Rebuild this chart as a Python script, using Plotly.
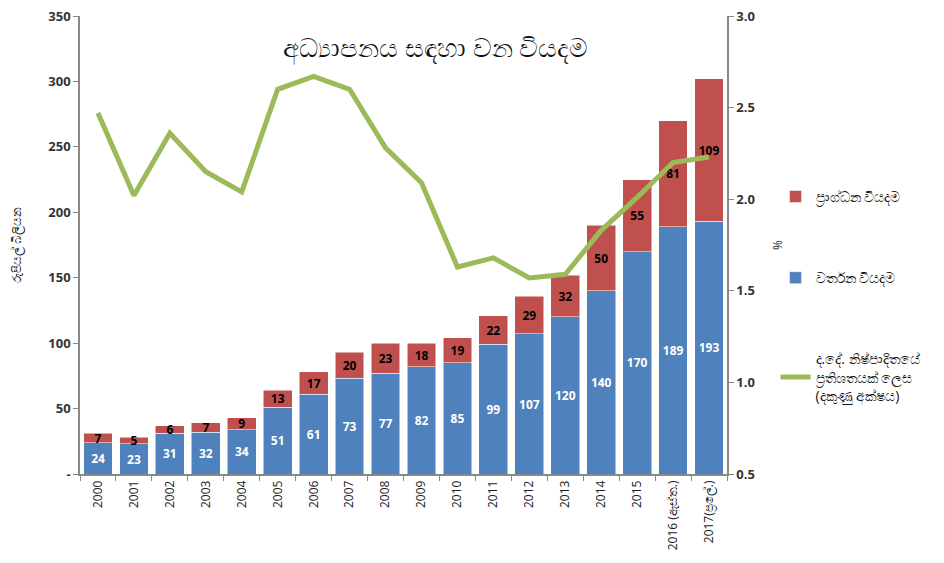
import plotly.graph_objects as go

years = ["2000", "2001", "2002", "2003", "2004", "2005", "2006", "2007", "2008",
         "2009", "2010", "2011", "2012", "2013", "2014", "2015",
         "2016 (ඇස්ත.)", "2017(ප්‍රලේ.)"]
current_exp = [24, 23, 31, 32, 34, 51, 61, 73, 77, 82, 85, 99, 107, 120, 140, 170, 189, 193]
capital_exp = [7, 5, 6, 7, 9, 13, 17, 20, 23, 18, 19, 22, 29, 32, 50, 55, 81, 109]
gdp_pct = [2.47, 2.02, 2.36, 2.15, 2.04, 2.60, 2.67, 2.60, 2.28, 2.09, 1.63, 1.68,
           1.57, 1.59, 1.83, 2.01, 2.20, 2.23]
left_ticks = [0, 50, 100, 150, 200, 250, 300, 350]
left_ticktext = ["-", "50", "100", "150", "200", "250", "300", "350"]
right_ticks = [0.5, 1.0, 1.5, 2.0, 2.5, 3.0]

title_text = "අධ්‍යාපනය සඳහා වන වියදම"
name_capital = "ප්‍රාග්ධන වියදම"
name_current = "වර්තන වියදම"
name_gdp = "ද.දේ. නිෂ්පාදිතයේ<br>ප්‍රතිශතයක් ලෙස<br>(දකුණු අක්ෂය)"

BLUE = "#4F81BD"
RED = "#C0504D"
GREEN = "#9BBB59"
FONT = "Open Sans, Noto Sans, DejaVu Sans, sans-serif"
TICKFONT = dict(size=13, color="#333", family=FONT, weight="bold")

fig = go.Figure()
fig.add_trace(go.Bar(
    x=years, y=current_exp, name=name_current, marker_color=BLUE,
    marker_line=dict(color="white", width=0.5),
    text=current_exp, textposition="inside", insidetextanchor="middle",
    textfont=dict(color="white", size=14, family=FONT, weight="bold"), textangle=0,
    legendgroup="b", legendrank=2,
))
fig.add_trace(go.Bar(
    x=years, y=capital_exp, name=name_capital, marker_color=RED,
    marker_line=dict(color="white", width=0.5),
    text=capital_exp, textposition="inside", insidetextanchor="middle",
    textfont=dict(color="black", size=14, family=FONT, weight="bold"), textangle=0,
    legendgroup="a", legendrank=1,
))
fig.add_trace(go.Scatter(
    x=years, y=gdp_pct, name=name_gdp, mode="lines",
    line=dict(color=GREEN, width=5), yaxis="y2",
    legendgroup="c", legendrank=3,
))

fig.update_layout(
    width=944, height=563,
    margin=dict(l=72, r=225, t=8, b=97, autoexpand=False),
    paper_bgcolor="white", plot_bgcolor="white",
    barmode="stack", bargap=0.2,
    uniformtext=dict(minsize=9, mode="show"),
    font=dict(family=FONT, color="#222", size=12),
    showlegend=True,
    legend=dict(x=1.075, y=0.64, xanchor="left", yanchor="top",
                traceorder="grouped", tracegroupgap=60,
                font=dict(size=14, color="#111"), itemwidth=30),
    xaxis=dict(type="category", tickangle=-90, showline=True, linecolor="#888",
               linewidth=1.5, ticks="outside", tickson="boundaries", ticklen=5,
               tickcolor="#888", showgrid=False, automargin=False,
               tickfont=dict(size=12, color="#222")),
    yaxis=dict(range=[0, 350], tickvals=left_ticks, ticktext=left_ticktext,
               showline=True, linecolor="#888", linewidth=1.5, ticks="outside",
               ticklen=5, tickcolor="#888", showgrid=False, zeroline=False,
               automargin=False, tickfont=TICKFONT, ticklabeloverflow="allow",
               title=dict(text="රුපියල් බිලියන", font=dict(size=12), standoff=24)),
    yaxis2=dict(range=[0.5, 3.0], tickvals=right_ticks, tickformat=".1f",
                overlaying="y", side="right",
                showline=True, linecolor="#888", linewidth=1.5, ticks="outside",
                ticklen=5, tickcolor="#888", showgrid=False, zeroline=False,
                automargin=False, tickfont=TICKFONT, ticklabeloverflow="allow",
                title=dict(text="%", font=dict(size=12), standoff=20)),
    annotations=[dict(text=title_text, x=0.55, y=0.932, xref="paper", yref="paper",
                      xanchor="center", yanchor="middle",
                      showarrow=False, font=dict(size=26, color="#111"))],
)

fig.write_html("out.html")
